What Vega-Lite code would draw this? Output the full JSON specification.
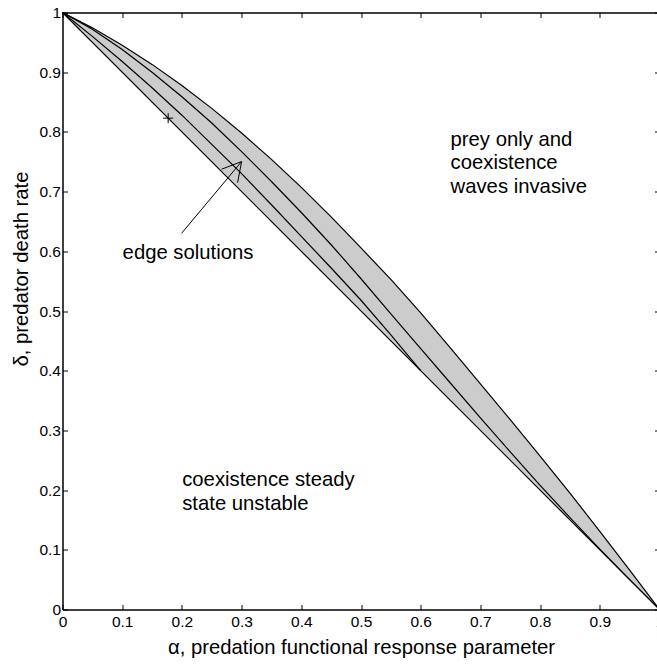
{
  "$schema": "https://vega.github.io/schema/vega-lite/v6.json",
  "width": 597,
  "height": 597,
  "autosize": "none",
  "padding": {"left": 62.5, "top": 12.5, "right": 0, "bottom": 54.5},
  "background": "white",
  "config": {
    "view": {"stroke": null},
    "font": "Liberation Sans",
    "axis": {"grid": false, "domainColor": "black", "tickColor": "black", "labelColor": "black", "titleColor": "black", "domainWidth": 1.5, "tickWidth": 1, "labelFont": "Liberation Sans", "titleFont": "Liberation Sans", "titleFontWeight": "normal", "labelFontSize": 15.5, "titleFontSize": 20.3, "labelFlush": false, "labelOverlap": false, "labelBound": false, "tickSize": -5}
  },
  "datasets": {
    "band": [
      {"a": 0, "lo": 1, "up": 1},
      {"a": 0.05, "lo": 0.95, "up": 0.9743},
      {"a": 0.1, "lo": 0.9, "up": 0.9453},
      {"a": 0.15, "lo": 0.85, "up": 0.9131},
      {"a": 0.2, "lo": 0.8, "up": 0.8778},
      {"a": 0.25, "lo": 0.75, "up": 0.8394},
      {"a": 0.3, "lo": 0.7, "up": 0.7981},
      {"a": 0.35, "lo": 0.65, "up": 0.754},
      {"a": 0.4, "lo": 0.6, "up": 0.7071},
      {"a": 0.45, "lo": 0.55, "up": 0.6576},
      {"a": 0.5, "lo": 0.5, "up": 0.6056},
      {"a": 0.55, "lo": 0.45, "up": 0.553},
      {"a": 0.6, "lo": 0.4, "up": 0.497},
      {"a": 0.65, "lo": 0.35, "up": 0.438},
      {"a": 0.7, "lo": 0.3, "up": 0.378},
      {"a": 0.75, "lo": 0.25, "up": 0.318},
      {"a": 0.8, "lo": 0.2, "up": 0.257},
      {"a": 0.85, "lo": 0.15, "up": 0.195},
      {"a": 0.9, "lo": 0.1, "up": 0.131},
      {"a": 0.95, "lo": 0.05, "up": 0.066},
      {"a": 1, "lo": 0, "up": 0}
    ],
    "lines": [
      {"c": "lower", "a": 0, "v": 1},
      {"c": "lower", "a": 1, "v": 0},
      {"c": "upper", "a": 0, "v": 1},
      {"c": "upper", "a": 0.05, "v": 0.9743},
      {"c": "upper", "a": 0.1, "v": 0.9453},
      {"c": "upper", "a": 0.15, "v": 0.9131},
      {"c": "upper", "a": 0.2, "v": 0.8778},
      {"c": "upper", "a": 0.25, "v": 0.8394},
      {"c": "upper", "a": 0.3, "v": 0.7981},
      {"c": "upper", "a": 0.35, "v": 0.754},
      {"c": "upper", "a": 0.4, "v": 0.7071},
      {"c": "upper", "a": 0.45, "v": 0.6576},
      {"c": "upper", "a": 0.5, "v": 0.6056},
      {"c": "upper", "a": 0.55, "v": 0.553},
      {"c": "upper", "a": 0.6, "v": 0.497},
      {"c": "upper", "a": 0.65, "v": 0.438},
      {"c": "upper", "a": 0.7, "v": 0.378},
      {"c": "upper", "a": 0.75, "v": 0.318},
      {"c": "upper", "a": 0.8, "v": 0.257},
      {"c": "upper", "a": 0.85, "v": 0.195},
      {"c": "upper", "a": 0.9, "v": 0.131},
      {"c": "upper", "a": 0.95, "v": 0.066},
      {"c": "upper", "a": 1, "v": 0},
      {"c": "mid", "a": 0, "v": 1},
      {"c": "mid", "a": 0.05, "v": 0.972},
      {"c": "mid", "a": 0.1, "v": 0.938},
      {"c": "mid", "a": 0.15, "v": 0.9},
      {"c": "mid", "a": 0.2, "v": 0.859},
      {"c": "mid", "a": 0.25, "v": 0.815},
      {"c": "mid", "a": 0.3, "v": 0.767},
      {"c": "mid", "a": 0.35, "v": 0.717},
      {"c": "mid", "a": 0.4, "v": 0.665},
      {"c": "mid", "a": 0.45, "v": 0.611},
      {"c": "mid", "a": 0.5, "v": 0.554},
      {"c": "mid", "a": 0.55, "v": 0.495},
      {"c": "mid", "a": 0.6, "v": 0.437},
      {"c": "mid", "a": 0.65, "v": 0.379},
      {"c": "mid", "a": 0.7, "v": 0.321},
      {"c": "mid", "a": 0.75, "v": 0.264},
      {"c": "mid", "a": 0.8, "v": 0.208},
      {"c": "mid", "a": 0.85, "v": 0.154},
      {"c": "mid", "a": 0.9, "v": 0.101},
      {"c": "mid", "a": 0.95, "v": 0.05},
      {"c": "mid", "a": 1, "v": 0},
      {"c": "inner", "a": 0, "v": 1},
      {"c": "inner", "a": 0.05, "v": 0.96},
      {"c": "inner", "a": 0.1, "v": 0.918},
      {"c": "inner", "a": 0.15, "v": 0.874},
      {"c": "inner", "a": 0.2, "v": 0.828},
      {"c": "inner", "a": 0.25, "v": 0.779},
      {"c": "inner", "a": 0.3, "v": 0.73},
      {"c": "inner", "a": 0.35, "v": 0.678},
      {"c": "inner", "a": 0.4, "v": 0.625},
      {"c": "inner", "a": 0.45, "v": 0.572},
      {"c": "inner", "a": 0.5, "v": 0.518},
      {"c": "inner", "a": 0.55, "v": 0.46},
      {"c": "inner", "a": 0.58, "v": 0.424},
      {"c": "inner", "a": 0.6, "v": 0.4}
    ],
    "arrow": [
      {"x1": 0.1995, "y1": 0.6302, "x2": 0.3, "y2": 0.7503},
      {"x1": 0.3, "y1": 0.7503, "x2": 0.2665, "y2": 0.7375},
      {"x1": 0.3, "y1": 0.7503, "x2": 0.2933, "y2": 0.715}
    ],
    "marker": [{"a": 0.177, "v": 0.823}],
    "labels": [
      {"a": 0.65, "v": 0.7767, "t": "prey only and\ncoexistence\nwaves invasive"},
      {"a": 0.1007, "v": 0.5867, "t": "edge solutions"},
      {"a": 0.2005, "v": 0.2067, "t": "coexistence steady\nstate unstable"}
    ]
  },
  "layer": [
    {
      "data": {"name": "band"},
      "mark": {"type": "area", "color": "#cccccc", "opacity": 1},
      "encoding": {
        "x": {"field": "a", "type": "quantitative", "scale": {"domain": [0, 1], "nice": false, "zero": false},
          "axis": {"orient": "bottom", "values": [0, 0.1, 0.2, 0.3, 0.4, 0.5, 0.6, 0.7, 0.8, 0.9, 1], "format": ".1~f", "labelFontSize": 15.5, "labelPadding": 10, "title": "α, predation functional response parameter", "titleFontSize": 20.3, "titleX": 298.5, "titleY": 44, "titleAlign": "center", "titleBaseline": "alphabetic", "titleAnchor": null}},
        "y": {"field": "lo", "type": "quantitative", "scale": {"domain": [0, 1], "nice": false, "zero": false},
          "axis": {"orient": "left", "values": [0, 0.1, 0.2, 0.3, 0.4, 0.5, 0.6, 0.7, 0.8, 0.9, 1], "format": ".1~f", "labelFontSize": 15.5, "labelPadding": 7, "title": "δ, predator death rate", "titleFontSize": 20.3, "titleX": -35.3, "titleY": 256, "titleAngle": -90, "titleAlign": "center", "titleBaseline": "alphabetic"}},
        "y2": {"field": "up"}
      }
    },
    {
      "data": {"name": "lines"},
      "mark": {"type": "line", "color": "black", "strokeWidth": 1.2},
      "encoding": {
        "x": {"field": "a", "type": "quantitative", "scale": {"domain": [0, 1], "nice": false, "zero": false},
          "axis": {"orient": "top", "values": [0, 0.1, 0.2, 0.3, 0.4, 0.5, 0.6, 0.7, 0.8, 0.9, 1], "labels": false, "title": null}},
        "y": {"field": "v", "type": "quantitative", "scale": {"domain": [0, 1], "nice": false, "zero": false},
          "axis": {"orient": "right", "values": [0, 0.1, 0.2, 0.3, 0.4, 0.5, 0.6, 0.7, 0.8, 0.9, 1], "labels": false, "title": null}},
        "detail": {"field": "c", "type": "nominal"}
      }
    },
    {
      "data": {"name": "arrow"},
      "mark": {"type": "rule", "color": "black", "strokeWidth": 1},
      "encoding": {
        "x": {"field": "x1", "type": "quantitative", "scale": {"domain": [0, 1], "nice": false, "zero": false}, "axis": null},
        "y": {"field": "y1", "type": "quantitative", "scale": {"domain": [0, 1], "nice": false, "zero": false}, "axis": null},
        "x2": {"field": "x2"},
        "y2": {"field": "y2"}
      }
    },
    {
      "data": {"name": "marker"},
      "mark": {"type": "point", "shape": "M-1,0L1,0M0,-1L0,1", "size": 100, "filled": false, "stroke": "black", "strokeWidth": 1, "opacity": 1},
      "encoding": {
        "x": {"field": "a", "type": "quantitative", "scale": {"domain": [0, 1], "nice": false, "zero": false}, "axis": null},
        "y": {"field": "v", "type": "quantitative", "scale": {"domain": [0, 1], "nice": false, "zero": false}, "axis": null}
      }
    },
    {
      "data": {"name": "labels"},
      "mark": {"type": "text", "align": "left", "baseline": "alphabetic", "font": "Liberation Sans", "fontSize": 20.3, "lineBreak": "\n", "lineHeight": 23.5, "color": "black"},
      "encoding": {
        "x": {"field": "a", "type": "quantitative", "scale": {"domain": [0, 1], "nice": false, "zero": false}, "axis": null},
        "y": {"field": "v", "type": "quantitative", "scale": {"domain": [0, 1], "nice": false, "zero": false}, "axis": null},
        "text": {"field": "t"}
      }
    }
  ],
  "resolve": {"axis": {"x": "independent", "y": "independent"}}
}
